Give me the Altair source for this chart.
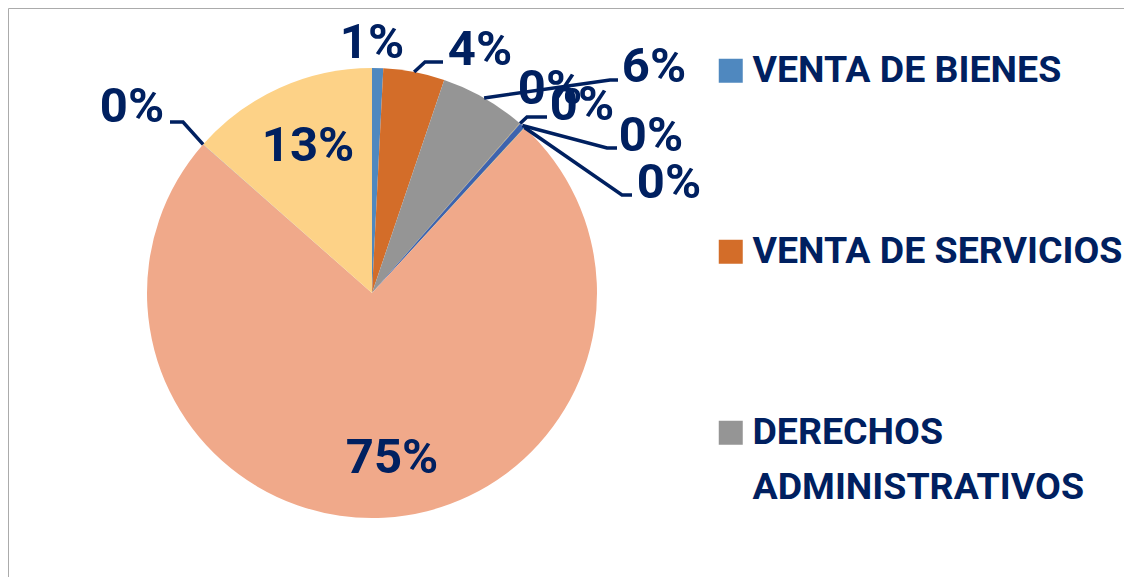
import altair as alt
import pandas as pd
import numpy as np

# ---------------- data ----------------
categories = [
    "VENTA DE BIENES",
    "VENTA DE SERVICIOS",
    "DERECHOS ADMINISTRATIVOS",
    "TASAS",
    "CONTRIBUCIONES",
    "MULTAS",
    "RENTAS DE INVERSIONES",
    "TRANSFERENCIAS CORRIENTES",
    "OTROS INGRESOS",
    "APORTES Y PARTICIPACIONES",
]
values = [0.8, 4.4, 6.2, 0.02, 0.02, 0.4, 0.02, 74.6, 0.02, 13.5]
labels = ["1%", "4%", "6%", "0%", "0%", "0%", "0%", "75%", "0%", "13%"]
colors = ["#4F88BF", "#D36D29", "#959595", "#E8B53A", "#2F4F8F",
          "#3E63AE", "#6E9B4A", "#F0A98A", "#8A8A8A", "#FDD287"]
legend_items = categories[:3]

# ---------------- layout (label placement, px relative to pie centre, y up) ----------------
R = 225
W, H = 1116, 569
CX, CY = 364, 285
label_dx = [0, 108, 282, 178, 210, 279, 297, 20, -240, -64]
label_dy = [253, 246, 229, 207, 191, 160, 113, -162, 189, 150]
leader_pts = {
    1: [(53, 231), (71, 231)],
    2: [(238, 213), (246, 213)],
    4: [(155, 176), (175, 176)],
    5: [(235, 145), (245, 145)],
    6: [(250, 98), (260, 98)],
    8: [(-189, 171), (-202, 171)],
}

idx = list(range(len(categories)))
pie_df = pd.DataFrame({"category": categories, "value": values, "idx": idx})

lbl_df = pd.DataFrame({"x": label_dx, "y": label_dy, "label": labels})

total = float(np.sum(values))
cum = np.cumsum(values) - np.array(values) / 2.0
mid_ang = cum / total * 2 * np.pi
rows = []
for i, pts in leader_pts.items():
    rows.append({"id": i, "seq": 0, "x": R * np.sin(mid_ang[i]), "y": R * np.cos(mid_ang[i])})
    for k, (px, py) in enumerate(pts):
        rows.append({"id": i, "seq": k + 1, "x": px, "y": py})
lead_df = pd.DataFrame(rows)

xs = alt.Scale(domain=[-CX, W - CX], nice=False, zero=False)
ys = alt.Scale(domain=[-(H - CY), CY], nice=False, zero=False)

pie = alt.Chart(pie_df).mark_arc(radius=R).encode(
    theta=alt.Theta("value:Q", stack=True),
    order=alt.Order("idx:Q", sort="ascending"),
    color=alt.Color(
        "category:N",
        scale=alt.Scale(domain=categories, range=colors),
        sort=categories,
        legend=alt.Legend(
            values=legend_items,
            orient="none",
            legendX=704,
            legendY=44,
            title=None,
            symbolType="square",
            symbolSize=576,
            symbolStrokeWidth=0,
            labelFont="Roboto",
            labelFontSize=37.5,
            labelFontWeight="bold",
            labelColor="#002060",
            labelOffset=3,
            labelLimit=0,
            rowPadding=142,
            padding=0,
            labelExpr="datum.label == 'DERECHOS ADMINISTRATIVOS' ? ['DERECHOS', 'ADMINISTRATIVOS'] : datum.label",
        ),
    ),
    x=alt.XDatum(0, type="quantitative", scale=xs, axis=None),
    y=alt.YDatum(0, type="quantitative", scale=ys, axis=None),
)

leaders = alt.Chart(lead_df).mark_line(color="#002060", strokeWidth=3.5).encode(
    x=alt.X("x:Q", scale=xs, axis=None),
    y=alt.Y("y:Q", scale=ys, axis=None),
    detail="id:N",
    order="seq:Q",
)

text = alt.Chart(lbl_df).mark_text(
    font="Roboto", fontSize=49, fontWeight="bold", color="#002060",
    baseline="middle", align="center", dy=3,
).encode(
    x=alt.X("x:Q", scale=xs, axis=None),
    y=alt.Y("y:Q", scale=ys, axis=None),
    text="label:N",
)

chart = alt.layer(pie, leaders, text).properties(
    width=W, height=H, autosize="none", padding=0,
).configure(
    style={"guide-label": {"lineHeight": 55}},
).configure_view(stroke="#ABABAB", strokeWidth=1)

chart.save("out.html", embed_options={"renderer": "svg", "actions": False})
